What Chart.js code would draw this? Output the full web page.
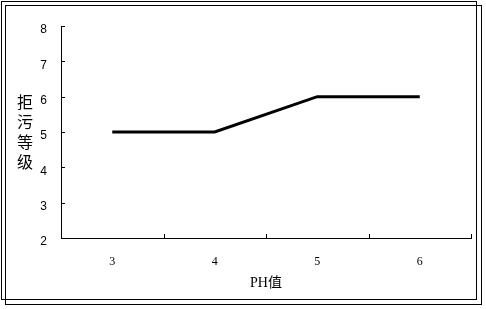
<!DOCTYPE html>
<html>
<head>
<meta charset="utf-8">
<script src="https://cdn.jsdelivr.net/npm/chart.js@4/dist/chart.umd.min.js"></script>
<style>
  html, body { margin: 0; padding: 0; background: #fff; }
  #wrap { position: relative; width: 486px; height: 309px; }
  .frame { position: absolute; border: 1px solid #000; box-sizing: border-box; pointer-events: none; }
  #f1 { left: 1px; top: 1px; width: 476px; height: 299px; }
  #f2 { left: 5px; top: 5px; width: 477px; height: 300px; }
  #ytitle {
    position: absolute; left: 15px; top: 91px; width: 20px;
    font: 16px 'Noto Sans CJK SC', sans-serif; line-height: 20px;
    text-align: center; color: #000;
  }
</style>
</head>
<body>
<div id="wrap">
  <canvas id="chart" width="486" height="309"></canvas>
  <div class="frame" id="f1"></div>
  <div class="frame" id="f2"></div>
  <div id="ytitle">拒<br>污<br>等<br>级</div>
</div>
<script>
  // data
  const phValues = ['3', '4', '5', '6'];
  const gradeValues = [5, 5, 6, 6];
  const yTicks = [2, 3, 4, 5, 6, 7, 8];

  // small inward tick marks like the original
  const innerTicks = {
    id: 'innerTicks',
    afterDraw(chart) {
      const ctx = chart.ctx;
      const x = chart.scales.x;
      const y = chart.scales.y;
      ctx.save();
      ctx.strokeStyle = '#000';
      ctx.lineWidth = 1;
      ctx.beginPath();
      yTicks.forEach(v => {
        const py = Math.round(y.getPixelForValue(v)) + 0.5;
        ctx.moveTo(x.left, py);
        ctx.lineTo(x.left + 4, py);
      });
      for (let i = 0; i < phValues.length; i++) {
        let px;
        if (i < phValues.length - 1) {
          px = (x.getPixelForValue(i) + x.getPixelForValue(i + 1)) / 2;
        } else {
          px = x.right;
        }
        px = Math.round(px) + 0.5;
        ctx.moveTo(px, y.bottom);
        ctx.lineTo(px, y.bottom - 4);
      }
      ctx.stroke();
      ctx.restore();
    }
  };

  new Chart(document.getElementById('chart'), {
    type: 'line',
    data: {
      labels: phValues,
      datasets: [{
        data: gradeValues,
        borderColor: '#000',
        borderWidth: 3,
        pointRadius: 0,
        tension: 0,
        fill: false
      }]
    },
    options: {
      responsive: false,
      animation: false,
      layout: { padding: { top: 26, right: 15, left: 0, bottom: 0 } },
      plugins: { legend: { display: false }, tooltip: { enabled: false } },
      scales: {
        x: {
          offset: true,
          grid: { offset: true, drawOnChartArea: false, drawTicks: false },
          border: { color: '#000', width: 1 },
          ticks: { color: '#000', padding: 17, font: { family: "'Liberation Serif', serif", size: 12 } },
          title: {
            display: true,
            text: 'PH值',
            color: '#000',
            font: { family: "'Liberation Serif', 'Noto Sans CJK SC', serif", size: 14 },
            padding: { top: 0, bottom: 17 }
          },
          afterFit(scale) { scale.height = 71; }
        },
        y: {
          min: 2,
          max: 8,
          grid: { drawOnChartArea: false, drawTicks: false },
          border: { color: '#000', width: 1 },
          ticks: {
            stepSize: 1,
            color: '#000',
            padding: 14,
            labelOffset: 4,
            font: { family: "'Liberation Sans', sans-serif", size: 12 }
          },
          afterFit(scale) { scale.width = 61; }
        }
      }
    },
    plugins: [innerTicks]
  });
</script>
</body>
</html>
